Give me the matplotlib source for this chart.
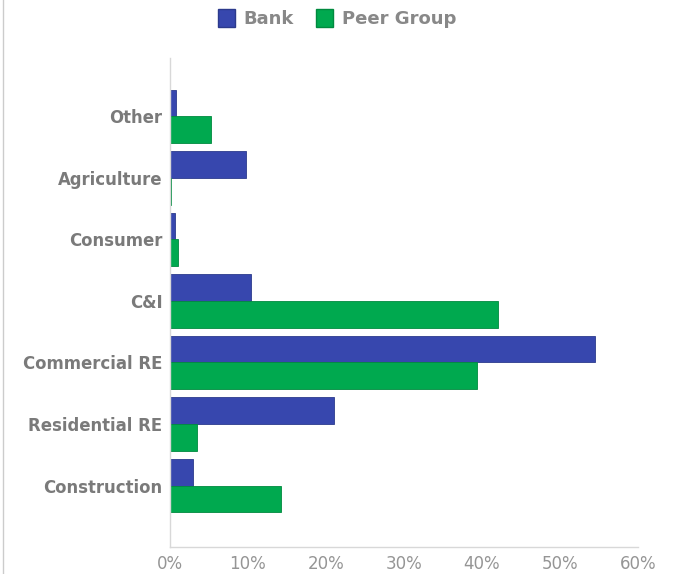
import numpy as np
import matplotlib.pyplot as plt
from matplotlib.patches import Patch
from matplotlib.lines import Line2D

categories = ["Construction", "Residential RE", "Commercial RE", "C&I",
              "Consumer", "Agriculture", "Other"]
bank = [2.9, 21.0, 54.5, 10.4, 0.6, 9.7, 0.8]
peer = [14.2, 3.5, 39.4, 42.0, 1.0, 0.1, 5.3]
x_ticks = [0, 10, 20, 30, 40, 50, 60]

bank_color = "#3747ae"
peer_color = "#00a94f"
text_gray = "#7a7a7a"

fig = plt.figure(figsize=(6.74, 5.74), dpi=100)
ax = fig.add_axes([0.2522, 0.047, 0.6944, 0.852])

y = np.arange(len(categories))
h = 0.4375
ax.barh(y + h / 2, bank, height=h, color=bank_color,
        edgecolor="#2c3a8c", linewidth=0.6)
ax.barh(y - h / 2, peer, height=h, color=peer_color,
        edgecolor="#008a3f", linewidth=0.6)

ax.set_xlim(0, 60)
ax.set_ylim(-1, 6.95)
ax.set_xticks(x_ticks)
ax.set_xticklabels([f"{t}%" for t in x_ticks], fontsize=12, color="#959595")
ax.set_yticks(y)
ax.set_yticklabels(categories, fontsize=11.9, fontweight="bold", color=text_gray)
ax.tick_params(axis="both", length=0)
ax.tick_params(axis="x", pad=6)
ax.tick_params(axis="y", pad=5.5)

for side in ["top", "right"]:
    ax.spines[side].set_visible(False)
for side in ["left", "bottom"]:
    ax.spines[side].set_color("#d8d8d8")
    ax.spines[side].set_linewidth(1)

handles = [Patch(facecolor=bank_color, edgecolor="#2c3a8c", label="Bank"),
           Patch(facecolor=peer_color, edgecolor="#008a3f", label="Peer Group")]
leg = fig.legend(handles=handles, loc="center", bbox_to_anchor=(0.5, 0.967),
                 ncol=2, frameon=False, fontsize=13, labelcolor="#888888",
                 handlelength=0.95, handleheight=1.15, handletextpad=0.5,
                 columnspacing=1.2)
for t in leg.get_texts():
    t.set_fontweight("bold")

# thin border on the left edge of the canvas
fig.add_artist(Line2D([0.004, 0.004], [0, 1], transform=fig.transFigure,
                      color="#cccccc", linewidth=1))

fig.savefig("out.png", dpi=100)
